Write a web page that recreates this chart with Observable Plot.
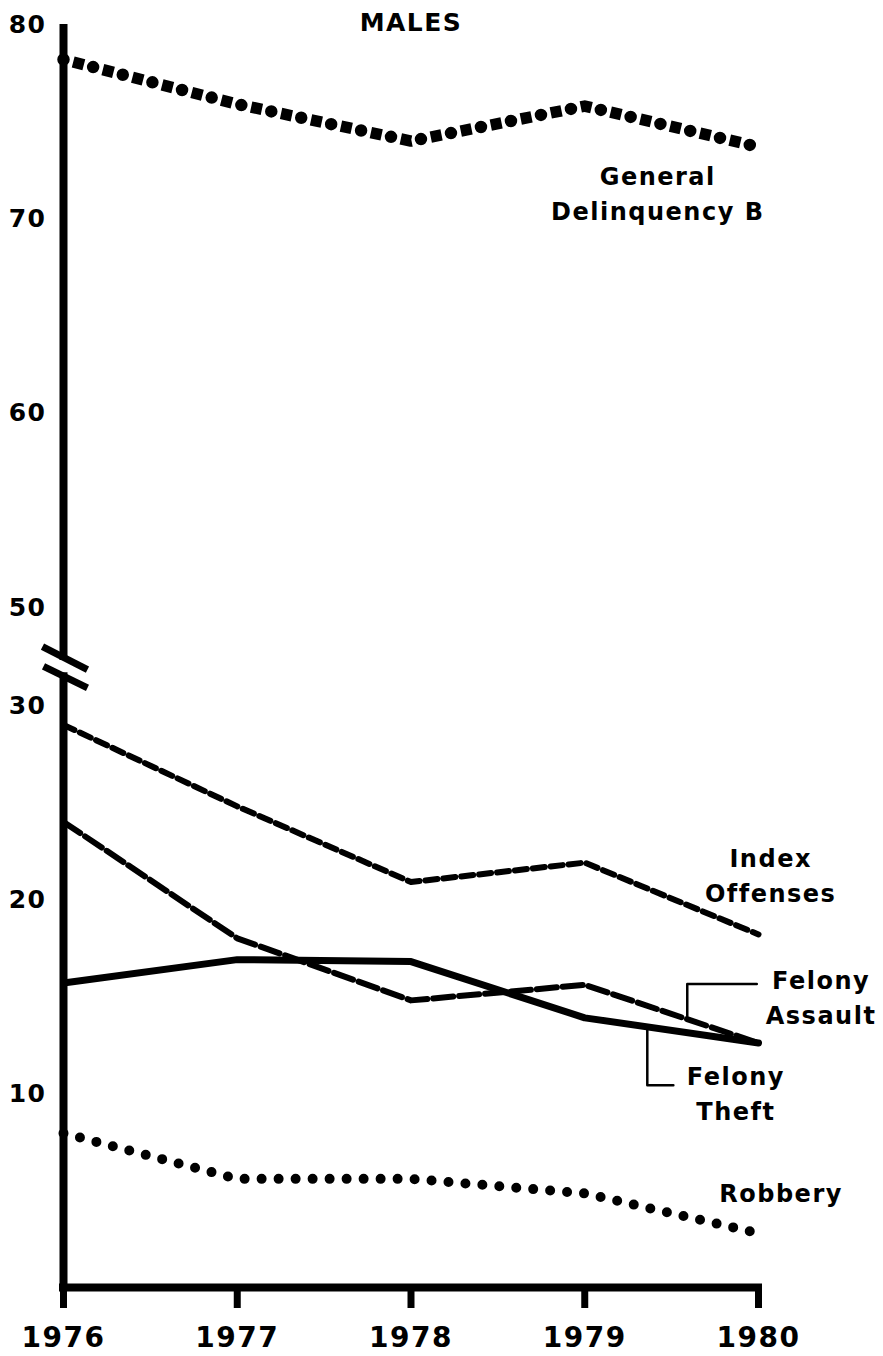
<!DOCTYPE html>
<html><head><meta charset="utf-8">
<script src="https://cdn.jsdelivr.net/npm/d3@7"></script>
<script src="https://cdn.jsdelivr.net/npm/@observablehq/plot@0.6"></script>
<style>
body{margin:0;background:#fff;}
#chart svg{display:block;background:#fff;}
#chart svg text{letter-spacing:1.5px;}
</style>
</head><body><div id="chart"></div>
<script>
// ---- data ----
const years = [1976, 1977, 1978, 1979, 1980];
const generalDelinquencyB = [78.2, 75.9, 74.0, 75.8, 73.7];
const indexOffenses       = [29.0, 24.8, 20.9, 21.9, 18.2];
const felonyAssault       = [24.0, 18.0, 14.8, 15.6, 12.6];
const felonyTheft         = [15.7, 16.9, 16.8, 13.9, 12.6];
const robbery             = [7.95, 5.6, 5.6, 4.85, 2.8];
const yTicks = [10, 20, 30, 50, 60, 70, 80];
const title = "MALES";

const rows = (vals) => years.map((year, i) => ({year, value: vals[i]}));

// labels placed in data space
const seriesLabels = [
  {label: "General\nDelinquency B", x: 1979.42, y: 71.4},
  {label: "Index\nOffenses",        x: 1980.07, y: 21.35},
  {label: "Felony\nAssault",        x: 1980.36, y: 15.05},
  {label: "Felony\nTheft",          x: 1979.87, y: 10.1},
  {label: "Robbery",                x: 1980.13, y: 5.0}
];
const leaders = [
  {id: "assault", x: 1979.99, y: 15.64},
  {id: "assault", x: 1979.59, y: 15.64},
  {id: "assault", x: 1979.59, y: 14.0},
  {id: "theft",   x: 1979.36, y: 13.4},
  {id: "theft",   x: 1979.36, y: 10.43},
  {id: "theft",   x: 1979.51, y: 10.43}
];
// axis segments around the scale break (between 30 and 50)
const axisSegments = [{y1: 0, y2: 36.7}, {y1: 39.2, y2: 80}];
const breakMarks = [
  {x1: 1975.879, y1: 42.0, x2: 1976.138, y2: 37.3},
  {x1: 1975.885, y1: 38.0, x2: 1976.138, y2: 33.6}
];

const font = "'DejaVu Sans', 'Liberation Sans', sans-serif";

const chart = Plot.plot({
  width: 883,
  height: 1356,
  marginTop: 24,
  marginRight: 125,
  marginBottom: 69,
  marginLeft: 63,
  style: {fontFamily: font, fontWeight: "bold", color: "#000", background: "#fff"},
  x: {domain: [1976, 1980]},
  y: {type: "linear", domain: [0, 30, 50, 80], range: [1287, 705, 607, 24]},
  marks: [
    // axes
    Plot.axisY(yTicks, {tickSize: 0, tickPadding: 17, fontSize: 25, fontWeight: "bold", fill: "#000"}),
    Plot.axisX(years, {tickSize: 21, tickPadding: 19, strokeWidth: 7, fontSize: 28, fontWeight: "bold", tickFormat: "d", fill: "#000", stroke: "#000"}),
    Plot.ruleY([0], {x1: 1976, x2: 1980, strokeWidth: 8, stroke: "#000", strokeLinecap: "square"}),
    Plot.ruleX(axisSegments, {x: () => 1976, y1: "y1", y2: "y2", strokeWidth: 8, stroke: "#000"}),
    Plot.link(breakMarks, {x1: "x1", y1: "y1", x2: "x2", y2: "y2", strokeWidth: 7, stroke: "#000"}),
    // series
    Plot.line(rows(generalDelinquencyB), {x: "year", y: "value", stroke: "#000", strokeWidth: 12.5, strokeDasharray: "0 30.6", strokeLinecap: "round"}),
    Plot.line(rows(generalDelinquencyB), {x: "year", y: "value", stroke: "#000", strokeWidth: 11.5, strokeDasharray: "11 19.6", strokeDashoffset: 20.6, strokeLinecap: "butt"}),
    Plot.line(rows(indexOffenses), {x: "year", y: "value", stroke: "#000", strokeWidth: 6, strokeDasharray: "12 6"}),
    Plot.line(rows(felonyAssault), {x: "year", y: "value", stroke: "#000", strokeWidth: 6, strokeDasharray: "20 6"}),
    Plot.line(rows(felonyTheft), {x: "year", y: "value", stroke: "#000", strokeWidth: 7}),
    Plot.line(rows(robbery), {x: "year", y: "value", stroke: "#000", strokeWidth: 10, strokeDasharray: "0 17", strokeLinecap: "round"}),
    // leaders and labels
    Plot.line(leaders, {x: "x", y: "y", z: "id", stroke: "#000", strokeWidth: 2.5}),
    Plot.text(seriesLabels, {x: "x", y: "y", text: "label", fontSize: 24, lineHeight: 1.45, fontWeight: "bold", fill: "#000", textAnchor: "middle"}),
    Plot.text([title], {frameAnchor: "top", lineAnchor: "middle", dy: -2, fontSize: 25, fontWeight: "bold", fill: "#000"})
  ]
});
document.getElementById("chart").append(chart);
</script>
</body></html>
